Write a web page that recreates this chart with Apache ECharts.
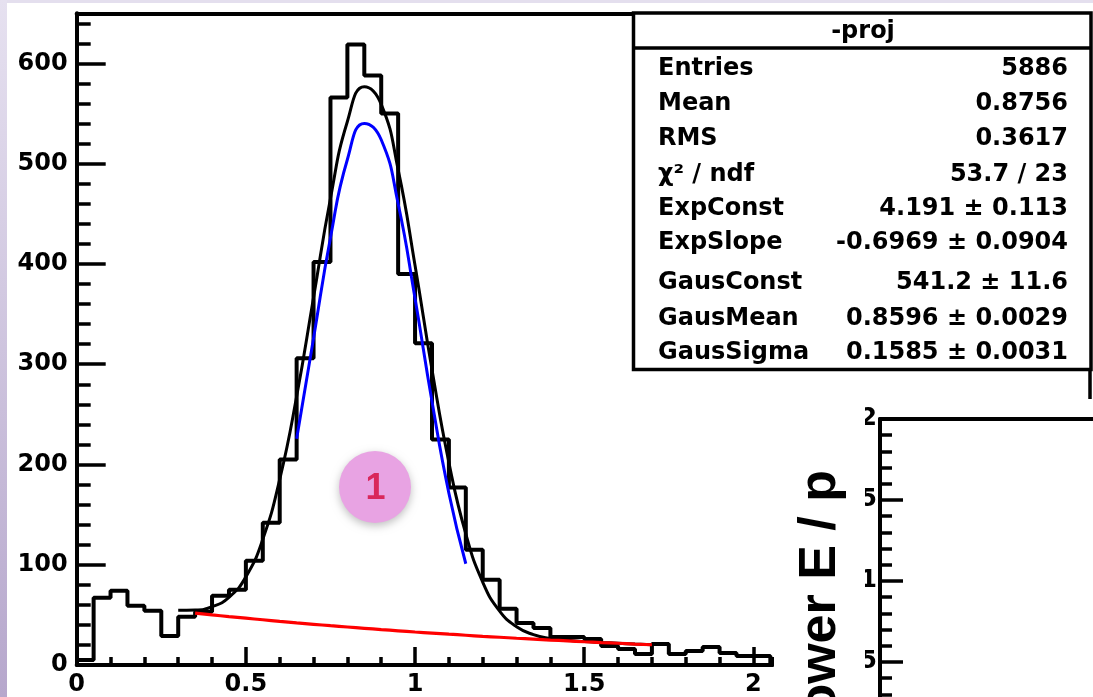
<!DOCTYPE html>
<html>
<head>
<meta charset="utf-8">
<script src="https://cdn.jsdelivr.net/npm/echarts@6/dist/echarts.min.js"></script>
<style>
html,body{margin:0;padding:0;background:#fff;}
#main{width:1093px;height:697px;}
</style>
</head>
<body>
<div id="main"></div>
<script>
// ---------------- data ----------------
const binLowEdges = [0,0.05,0.10,0.15,0.20,0.25,0.30,0.35,0.40,0.45,0.50,0.55,0.60,0.65,0.70,0.75,0.80,0.85,0.90,0.95,
  1.00,1.05,1.10,1.15,1.20,1.25,1.30,1.35,1.40,1.45,1.50,1.55,1.60,1.65,1.70,1.75,1.80,1.85,1.90,1.95,2.00];
const binUpperEnd = 2.05;
const binCounts = [5,67,74,59,54,29,48,53,69,75,104,142,205,306,402,566,619,588,550,390,
  321,225,177,115,85,56,42,37,28,28,26,19,16,11,21,11,14,18,12,9,9];

// total fit (black)
const totalFitX = [0.30,0.35,0.40,0.45,0.50,0.55,0.60,0.65,0.70,0.75,0.80,0.85,0.90,0.95,1.00,1.05,1.10,1.15,1.20,1.25,1.30,1.35,1.40,1.45,1.50,1.55,1.60,1.65,1.70];
const totalFitY = [54.7,54.9,58.1,67.5,87.9,125.4,185.1,267.7,366.6,465.3,542.1,576.8,559.2,494.1,398.5,294.8,202.0,130.7,82.6,53.7,38.1,30.3,26.5,24.6,23.4,22.5,21.7,20.9,20.2];
// gaussian component (blue)
const gausFitX = [0.65,0.70,0.75,0.80,0.85,0.90,0.95,1.00,1.05,1.10,1.15];
const gausFitY = [225.7,326.0,426.1,504.2,540.2,523.9,460.0,365.6,263.0,171.3,101.0];
// exponential component (red)
const expFitX = [0.35,0.40,0.45,0.50,0.55,0.60,0.65,0.70,0.75,0.80,0.85,0.90,0.95,1.00,1.05,1.10,1.15,1.20,1.25,1.30,1.35,1.40,1.45,1.50,1.55,1.60,1.65,1.70];
const expFitY = [51.8,50.0,48.3,46.7,45.1,43.5,42.0,40.6,39.2,37.9,36.6,35.3,34.1,32.9,31.8,30.7,29.7,28.6,27.7,26.7,25.8,24.9,24.1,23.2,22.4,21.7,20.9,20.2];

const xTickLabels = ['0','0.5','1','1.5','2'];
const yTickLabels = ['0','100','200','300','400','500','600'];
const statsTitle = '-proj';
const statsLabels = ['Entries','Mean','RMS','χ² / ndf','ExpConst','ExpSlope','GausConst','GausMean','GausSigma'];
const statsValues = ['5886','0.8756','0.3617','53.7 / 23','4.191 ± 0.113','-0.6969 ± 0.0904','541.2 ± 11.6','0.8596 ± 0.0029','0.1585 ± 0.0031'];
const panel2TickLabels = ['0.5','1','1.5','2'];
const panel2Title = 'Shower E / p';
const markerText = '1';

// ---------------- build series data ----------------
const histData = binLowEdges.map((x,i)=>[x,binCounts[i]]);
histData.push([binUpperEnd, binCounts[binCounts.length-1]]);
histData.push([binUpperEnd, 0]);
const zip = (xs,ys)=>xs.map((x,i)=>[x,ys[i]]);

const FONT = '"DejaVu Sans", "Liberation Sans", sans-serif';
const chart = echarts.init(document.getElementById('main'), null, {renderer:'canvas'});

const statsRowY = [68.7,103.8,138.7,175,209,243,283,318.3,352.5];
const graphics = [
  // slide background bands
  {type:'rect', shape:{x:0,y:0,width:1093,height:3}, style:{fill:'#e4dfee'}, z:1},
  {type:'rect', shape:{x:0,y:0,width:7,height:697}, style:{fill:new echarts.graphic.LinearGradient(0,0,0,1,[{offset:0,color:'#e6e1f0'},{offset:1,color:'#b6a7cc'}])}, z:1},
  // cover hiding the left part of second panel labels
  {type:'rect', shape:{x:774,y:400,width:91,height:297}, style:{fill:'#fff'}, z:50},
  // rotated title of second panel
  {type:'text', x:821, y:470, rotation:Math.PI/2, z:60,
    style:{text:panel2Title, fill:'#000', font:'bold 52px "Liberation Sans", Arial, sans-serif', align:'right', verticalAlign:'middle'}},
  // stats box
  {type:'line', shape:{x1:1090,y1:360,x2:1090,y2:399}, style:{stroke:'#000',lineWidth:3.5}, z:69},
  {type:'rect', shape:{x:633.5,y:13,width:457.5,height:356.5}, style:{fill:'#fff',stroke:'#000',lineWidth:3.5}, z:70},
  {type:'line', shape:{x1:633.5,y1:48,x2:1091,y2:48}, style:{stroke:'#000',lineWidth:3.5}, z:71},
  {type:'text', x:863, y:32, z:72, style:{text:statsTitle, fill:'#000', font:'bold 24px '+FONT, align:'center', verticalAlign:'middle'}},
  // marker circle
  {type:'circle', shape:{cx:375,cy:487,r:36}, style:{fill:'#e8a3e3', shadowBlur:8, shadowColor:'rgba(0,0,0,0.25)', shadowOffsetY:3}, z:80},
  {type:'text', x:375.5, y:489, z:81, style:{text:markerText, fill:'#d9275b', font:'bold 36px "Liberation Sans", Arial, sans-serif', align:'center', verticalAlign:'middle'}}
];
statsLabels.forEach((t,i)=>{
  graphics.push({type:'text', x:658, y:statsRowY[i], z:72, style:{text:t, fill:'#000', font:'bold 24px '+FONT, align:'left', verticalAlign:'middle'}});
  graphics.push({type:'text', x:1068, y:statsRowY[i], z:72, style:{text:statsValues[i], fill:'#000', font:'bold 24px '+FONT, align:'right', verticalAlign:'middle'}});
});

const axisLbl = {color:'#000', fontFamily:FONT, fontWeight:'bold', fontSize:24};
const W = 4, TW = 3.5;
const option = {
  animation:false,
  backgroundColor:'#fff',
  grid:[
    {left:76.7, top:13.3, width:696, height:651.7, containLabel:false, outerBoundsMode:'none'},
    {left:880, top:419, width:400, height:324, containLabel:false, outerBoundsMode:'none'}
  ],
  xAxis:[
    {gridIndex:0, type:'value', position:'bottom', min:0, max:2.057, interval:0.5,
      axisLine:{onZero:false, lineStyle:{color:'#000', width:W}},
      axisTick:{inside:true, length:18, lineStyle:{color:'#000', width:TW}},
      axisLabel:Object.assign({margin:8, showMaxLabel:false, formatter:(v)=>{const s=xTickLabels.find(l=>Math.abs(parseFloat(l)-v)<1e-6);return s===undefined?'':s;}}, axisLbl),
      splitLine:{show:false}},
    {gridIndex:0, type:'value', position:'bottom', min:0, max:2.057, interval:0.1,
      axisLine:{show:false}, axisTick:{inside:true, length:8, lineStyle:{color:'#000', width:TW}},
      axisLabel:{show:false}, splitLine:{show:false}},
    {gridIndex:0, type:'value', position:'top', min:0, max:2.057,
      axisLine:{onZero:false, lineStyle:{color:'#000', width:W}}, axisTick:{show:false},
      axisLabel:{show:false}, splitLine:{show:false}},
    {gridIndex:1, type:'value', position:'top', min:0, max:1,
      axisLine:{onZero:false, lineStyle:{color:'#000', width:W}}, axisTick:{show:false},
      axisLabel:{show:false}, splitLine:{show:false}}
  ],
  yAxis:[
    {gridIndex:0, type:'value', position:'left', min:0, max:650, interval:100,
      axisLine:{onZero:false, lineStyle:{color:'#000', width:W}},
      axisTick:{inside:true, length:29, lineStyle:{color:'#000', width:TW}},
      axisLabel:Object.assign({margin:9, showMaxLabel:false, formatter:(v)=>{const s=yTickLabels.find(l=>Math.abs(parseFloat(l)-v)<1e-6);return s===undefined?'':s;}}, axisLbl),
      splitLine:{show:false}},
    {gridIndex:0, type:'value', position:'left', min:0, max:650, interval:20,
      axisLine:{show:false}, axisTick:{inside:true, length:14, lineStyle:{color:'#000', width:TW}},
      axisLabel:{show:false}, splitLine:{show:false}},
    {gridIndex:1, type:'value', position:'left', min:0, max:2, interval:0.5,
      axisLine:{onZero:false, lineStyle:{color:'#000', width:W}},
      axisTick:{inside:true, length:23, lineStyle:{color:'#000', width:TW}},
      minorTick:{show:true, splitNumber:5, length:12, lineStyle:{color:'#000', width:TW}},
      axisLabel:Object.assign({margin:3, formatter:(v)=>{const s=panel2TickLabels.find(l=>Math.abs(parseFloat(l)-v)<1e-6);return s===undefined?'':s;}}, axisLbl),
      splitLine:{show:false}}
  ],
  series:[
    {type:'line', name:'hist', xAxisIndex:0, yAxisIndex:0, data:histData, step:'end', symbol:'none',
      lineStyle:{color:'#000', width:4}, z:3},
    {type:'line', name:'total', xAxisIndex:0, yAxisIndex:0, data:zip(totalFitX,totalFitY), smooth:0.5, symbol:'none',
      lineStyle:{color:'#000', width:3}, z:4},
    {type:'line', name:'exp', xAxisIndex:0, yAxisIndex:0, data:zip(expFitX,expFitY), smooth:0.5, symbol:'none',
      lineStyle:{color:'#ff0000', width:3.2}, z:5},
    {type:'line', name:'gaus', xAxisIndex:0, yAxisIndex:0, data:zip(gausFitX,gausFitY), smooth:0.5, symbol:'none',
      lineStyle:{color:'#0000ff', width:3}, z:6}
  ],
  graphic:graphics
};
chart.setOption(option);
</script>
</body>
</html>
